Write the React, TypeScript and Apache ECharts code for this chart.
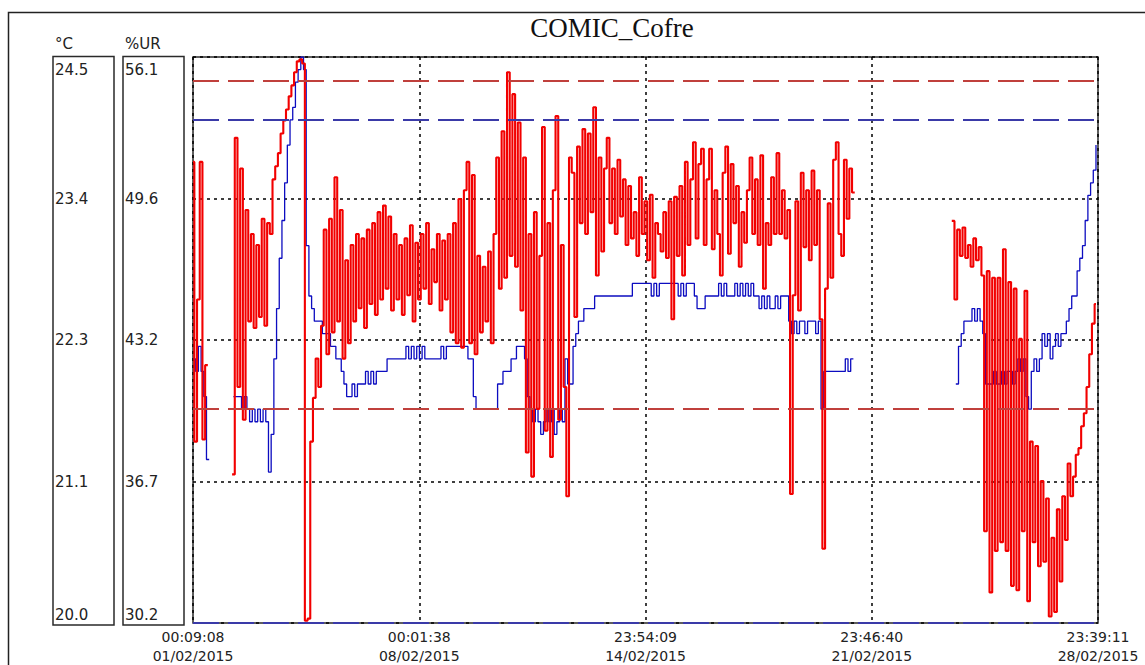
import React, { useEffect, useRef } from "react";
import * as echarts from "echarts";

// ---- data ----
const chartTitle = "COMIC_Cofre";
const tempUnit = "°C";
const humUnit = "%UR";
// time axis in hours since 01/02/2015 00:09:08, one reading every 2 hours
const SAMPLE_HOURS = 2;
const X_MAX = 671.5;
const X_INTERVAL = 167.875;
const timeTickLabels = [
  "00:09:08\n01/02/2015",
  "00:01:38\n08/02/2015",
  "23:54:09\n14/02/2015",
  "23:46:40\n21/02/2015",
  "23:39:11\n28/02/2015",
];
const tempTickLabels = ["20.0", "21.1", "22.3", "23.4", "24.5"];
const humTickLabels = ["30.2", "36.7", "43.2", "49.6", "56.1"];
const TEMP_MIN = 20.0;
const TEMP_MAX = 24.5;
const HUM_MIN = 30.2;
const HUM_MAX = 56.1;
const tempLimits = [24.0, 20.0];
const humLimits = [55.0, 40.0];

// relative humidity (%UR), red
const humidity = [
  51.3, 38.5, 45.0, 51.3, 38.6, 42.0,
  null, null, null, null, null, null, null, null, null,
  37.0, 52.4, 41.0, 51.0, 39.5,
  49.1, 44.0, 48.0, 43.7, 47.5, 44.2, 48.7, 43.8, 48.5,
  48.0, 50.5, 51.1, 51.7, 52.6, 53.2, 53.7, 54.3, 54.8, 55.4, 55.9, 56.0, 55.8,
  30.3, 30.4, 38.5, 40.5, 42.3, 41.0, 43.8,
  48.2, 42.5, 48.7, 43.5, 50.6, 44.0, 49.1, 42.3, 46.8, 43.0,
  47.5, 44.0, 48.0, 44.6, 47.8, 43.7, 48.2, 44.8, 48.5, 44.3, 49.0, 45.0, 49.3, 45.5, 48.8, 44.5, 48.0, 45.0, 47.5,
  44.3, 47.8, 45.2, 48.4, 44.0, 47.6, 45.0, 48.0, 45.5, 48.5, 44.8, 47.3, 45.8, 48.0, 44.5, 47.7, 45.0, 48.0,
  43.5, 48.5, 43.0, 49.6, 42.8, 50.0, 51.3, 43.0, 50.7, 42.5,
  47.0, 43.5, 46.5, 44.0, 47.2, 43.0, 48.0,
  51.5, 45.5, 52.7, 46.0, 55.4, 47.0, 54.4, 46.5, 53.1, 44.5,
  51.5, 38.0, 48.0, 36.9, 49.0, 40.0, 47.0, 52.9, 39.0, 48.5, 37.8, 50.0, 53.4, 39.5, 47.5, 41.0, 36.0, 51.5,
  50.8, 44.2, 52.0, 48.5, 52.8, 48.0, 52.6, 49.0, 53.8, 46.1, 51.5, 47.2, 51.0, 52.4, 48.5, 51.0, 48.0, 51.4, 48.8, 50.5,
  47.5, 50.2, 47.8, 49.0, 47.0, 50.6, 48.0, 49.5, 46.8, 49.8, 46.0, 48.5,
  48.0,
  47.2, 49.0, 46.9, 49.5, 44.1, 49.7, 47.0, 50.2, 46.1, 51.3, 47.5, 50.5, 52.2, 47.8, 51.2,
  51.9, 47.5, 50.5, 51.9, 47.3, 50.0, 48.0, 46.1, 50.8, 52.0, 47.1, 51.2,
  48.5, 50.2, 46.5, 49.0, 47.6, 50.0, 51.5, 48.0, 50.5, 47.5, 51.6, 45.5, 48.5, 47.5, 50.6, 48.0,
  51.7, 48.0, 50.0, 47.8, 49.1, 36.1, 45.2, 49.5, 44.5, 50.8,
  47.4, 50.0, 46.8, 50.9, 47.5, 50.0, 44.1, 33.6, 45.5, 49.4, 46.0,
  51.4, 52.2, 48.0, 47.0, 51.4, 48.7, 51.0, 49.9,
  null, null, null, null, null, null, null, null, null, null, null, null,
  null, null, null, null, null, null, null, null, null, null, null, null,
  null, null, null, null, null, null, null, null, null, null, null, null,
  48.6, 45.0, 48.2, 47.0, 48.3, 46.9, 47.5, 46.5, 47.8, 46.8, 47.4, 46.1, 34.4, 46.3, 31.6, 46.0, 33.5,
  46.0, 33.9, 47.3, 33.5, 45.8, 31.9, 45.5, 31.7, 43.2, 34.4, 45.4, 31.2, 38.5, 33.9, 38.3, 32.8, 36.7, 33.0,
  35.9, 30.5, 34.1, 30.7, 35.4, 32.1, 36.0, 34.0, 37.5, 36.0,
  36.9, 37.9, 38.2, 39.2, 39.8, 41.0, 42.5, 43.9, 44.8,
];

// temperature (°C), blue
const temperature = [
  22.1, 22.0, 22.2, 22.0, 21.8, 21.3,
  null, null, null, null, null, null, null, null, null,
  21.8, 21.8, 21.8, 21.7, 21.8, 21.7, 21.6, 21.7, 21.6, 21.7, 21.6, 21.7, 21.6, 21.2,
  21.5, 22.1, 22.5, 22.9, 23.2, 23.5, 23.8, 24.0, 24.1, 24.3, 24.4, 24.5, 24.4,
  23.0, 22.6, 22.5, 22.4, 22.4, 22.4, 22.3, 22.3, 22.3, 22.2, 22.2, 22.1, 22.1, 22.0, 21.9, 21.8, 21.8,
  21.9, 21.8, 21.9, 21.9, 21.9, 22.0, 21.9, 22.0, 21.9, 22.0, 22.0, 22.0, 22.0, 22.1, 22.1, 22.1, 22.1, 22.1, 22.1, 22.1,
  22.2, 22.1, 22.2, 22.1, 22.2, 22.1, 22.2, 22.1,
  22.1, 22.1, 22.1, 22.1, 22.1, 22.2, 22.1, 22.2,
  22.2, 22.2, 22.2, 22.2, 22.2, 22.2, 22.2, 22.1, 22.1,
  21.8, 21.7, 21.7, 21.7, 21.7, 21.7, 21.7, 21.7, 21.7,
  21.9, 21.9, 22.0, 22.0, 22.0, 22.1, 22.1, 22.2, 22.2, 22.2, 22.1,
  21.8, 21.7, 21.6, 21.7, 21.6, 21.5, 21.6, 21.7, 21.6, 21.7, 21.5, 21.6, 21.7, 21.6,
  22.1, 21.9, 21.9, 22.2, 22.3, 22.4, 22.4, 22.5, 22.5, 22.5, 22.5, 22.6, 22.6, 22.6, 22.6, 22.6, 22.6, 22.6,
  22.6, 22.6, 22.6, 22.6, 22.6, 22.6, 22.6,
  22.7, 22.7, 22.7, 22.7, 22.7, 22.7, 22.7, 22.6, 22.7, 22.6, 22.7, 22.7, 22.7, 22.7, 22.7, 22.7, 22.7, 22.6,
  22.7, 22.6, 22.7, 22.7, 22.7,
  22.6, 22.5, 22.5, 22.5, 22.6, 22.6, 22.6, 22.6, 22.6, 22.7, 22.6, 22.7, 22.6, 22.6, 22.6, 22.7, 22.6, 22.7,
  22.6, 22.7, 22.6, 22.7, 22.6, 22.6, 22.5, 22.6, 22.5, 22.6, 22.5, 22.5, 22.6, 22.5, 22.6, 22.6, 22.6,
  22.4, 22.3, 22.4, 22.3, 22.4, 22.4, 22.3, 22.4, 22.4, 22.4, 22.3, 22.4,
  21.7, 22.0, 22.0, 22.0, 22.0, 22.0, 22.0, 22.0, 22.0, 22.1, 22.0, 22.1,
  null, null, null, null, null, null, null, null, null, null, null, null, null,
  null, null, null, null, null, null, null, null, null, null, null, null, null,
  null, null, null, null, null, null, null, null, null, null, null, null,
  21.9, 22.2, 22.3, 22.4, 22.4, 22.4, 22.5, 22.4, 22.5, 22.4, 22.3,
  21.9, 21.9, 21.9, 22.0, 21.9, 21.9, 22.0, 21.9, 22.0, 22.0, 21.9, 22.0, 22.1, 22.0, 22.1, 21.8, 21.7, 22.0, 22.1, 22.0,
  22.1, 22.3, 22.2, 22.3, 22.1, 22.2, 22.3, 22.2,
  22.3, 22.3, 22.4, 22.5, 22.6, 22.6, 22.8, 22.9, 23.0, 23.2, 23.4, 23.5, 23.6, 23.8,
];

// ---- layout / style ----
const GRID = { left: 193, top: 57, width: 905, height: 568 };
const LABEL_FONT = "DejaVu Sans";
const RED = "#f20000";
const BLUE = "#0c0cc0";

function tickIndex(v: number, step: number) {
  return Math.round(v / step);
}

export default function App() {
  const ref = useRef<HTMLDivElement>(null);

  useEffect(() => {
    if (!ref.current) return;
    const chart = echarts.init(ref.current, null, { renderer: "svg" });

    const humData = humidity.map((v, i) => [i * SAMPLE_HOURS, v]);
    const tempData = temperature.map((v, i) => [i * SAMPLE_HOURS, v]);

    const yLabelRich = {
      top: { padding: [26, 0, 0, 0], fontFamily: LABEL_FONT, fontSize: 15, color: "#222" },
      bot: { padding: [0, 0, 16, 0], fontFamily: LABEL_FONT, fontSize: 15, color: "#222" },
    };
    const yFormatter = (labels: string[]) => (v: number) => {
      const k = tickIndex(v, 1);
      const t = labels[k] ?? "";
      if (k === 4) return `{top|${t}}`;
      if (k === 0) return `{bot|${t}}`;
      return t;
    };

    const option: any = {
      animation: false,
      backgroundColor: "#ffffff",
      grid: {
        ...GRID,
        show: true,
        borderColor: "#2a2a2a",
        borderWidth: 1.5,
        backgroundColor: "#ffffff",
      },
      xAxis: {
        type: "value",
        min: 0,
        max: X_MAX,
        interval: X_INTERVAL,
        axisLine: { show: false },
        axisTick: { show: false },
        splitLine: { show: true, lineStyle: { color: "#000", type: [3, 4], width: 1.5 } },
        axisLabel: {
          showMinLabel: true,
          showMaxLabel: true,
          margin: 4,
          fontFamily: LABEL_FONT,
          fontSize: 14,
          lineHeight: 19,
          color: "#222",
          formatter: (v: number) => timeTickLabels[tickIndex(v, X_INTERVAL)] ?? "",
        },
      },
      yAxis: [
        { type: "value", min: TEMP_MIN, max: TEMP_MAX, show: false, position: "left" },
        { type: "value", min: HUM_MIN, max: HUM_MAX, show: false, position: "left" },
        {
          type: "value",
          min: 0,
          max: 4,
          interval: 1,
          position: "left",
          offset: 0,
          axisLine: { show: false },
          axisTick: { show: false },
          splitLine: { show: true, lineStyle: { color: "#000", type: [3, 4], width: 1.5 } },
          axisLabel: {
            align: "left",
            margin: GRID.left - 55,
            fontFamily: LABEL_FONT,
            fontSize: 15,
            color: "#222",
            rich: yLabelRich,
            formatter: yFormatter(tempTickLabels),
          },
        },
        {
          type: "value",
          min: 0,
          max: 4,
          interval: 1,
          position: "left",
          offset: 0,
          axisLine: { show: false },
          axisTick: { show: false },
          splitLine: { show: false },
          axisLabel: {
            align: "left",
            margin: GRID.left - 125,
            fontFamily: LABEL_FONT,
            fontSize: 15,
            color: "#222",
            rich: yLabelRich,
            formatter: yFormatter(humTickLabels),
          },
        },
      ],
      graphic: [
        {
          type: "polyline",
          shape: { points: [[8.5, 665], [8.5, 12.5], [1145, 12.5]] },
          style: { stroke: "#222", lineWidth: 1.5, fill: null },
          silent: true,
        },
        {
          type: "rect",
          shape: { x: 53, y: 56.5, width: 61, height: 568.5 },
          style: { stroke: "#2a2a2a", lineWidth: 1.5, fill: null },
          silent: true,
        },
        {
          type: "rect",
          shape: { x: 123, y: 56.5, width: 61, height: 568.5 },
          style: { stroke: "#2a2a2a", lineWidth: 1.5, fill: null },
          silent: true,
        },
        {
          type: "text",
          x: 55,
          y: 44,
          style: {
            text: tempUnit,
            fontFamily: LABEL_FONT,
            fontSize: 15,
            fill: "#222",
            align: "left",
            verticalAlign: "middle",
          },
        },
        {
          type: "text",
          x: 125,
          y: 44,
          style: {
            text: humUnit,
            fontFamily: LABEL_FONT,
            fontSize: 15,
            fill: "#222",
            align: "left",
            verticalAlign: "middle",
          },
        },
        {
          type: "text",
          x: 612,
          y: 28,
          style: {
            text: chartTitle,
            fontFamily: "Liberation Serif",
            fontSize: 27,
            fill: "#111",
            align: "center",
            verticalAlign: "middle",
          },
        },
      ],
      series: [
        {
          name: "Temperatura",
          type: "line",
          yAxisIndex: 0,
          data: tempData,
          step: "end",
          symbol: "none",
          z: 2,
          lineStyle: { color: BLUE, width: 1.3 },
          markLine: {
            silent: true,
            symbol: ["none", "none"],
            label: { show: false },
            lineStyle: { color: "#3a3aa8", type: [26, 9], width: 2 },
            data: tempLimits.map((v) => ({ yAxis: v })),
          },
        },
        {
          name: "Humedad",
          type: "line",
          yAxisIndex: 1,
          data: humData,
          step: "middle",
          symbol: "none",
          z: 3,
          lineStyle: { color: RED, width: 2.1 },
          markLine: {
            silent: true,
            symbol: ["none", "none"],
            label: { show: false },
            lineStyle: { color: "#c0403c", type: [26, 9], width: 2 },
            data: humLimits.map((v) => ({ yAxis: v })),
          },
        },
      ],
    };

    chart.setOption(option);
    return () => chart.dispose();
  }, []);

  return (
    <div
      ref={ref}
      style={{ position: "absolute", left: 0, top: 0, width: 1145, height: 665 }}
    />
  );
}
